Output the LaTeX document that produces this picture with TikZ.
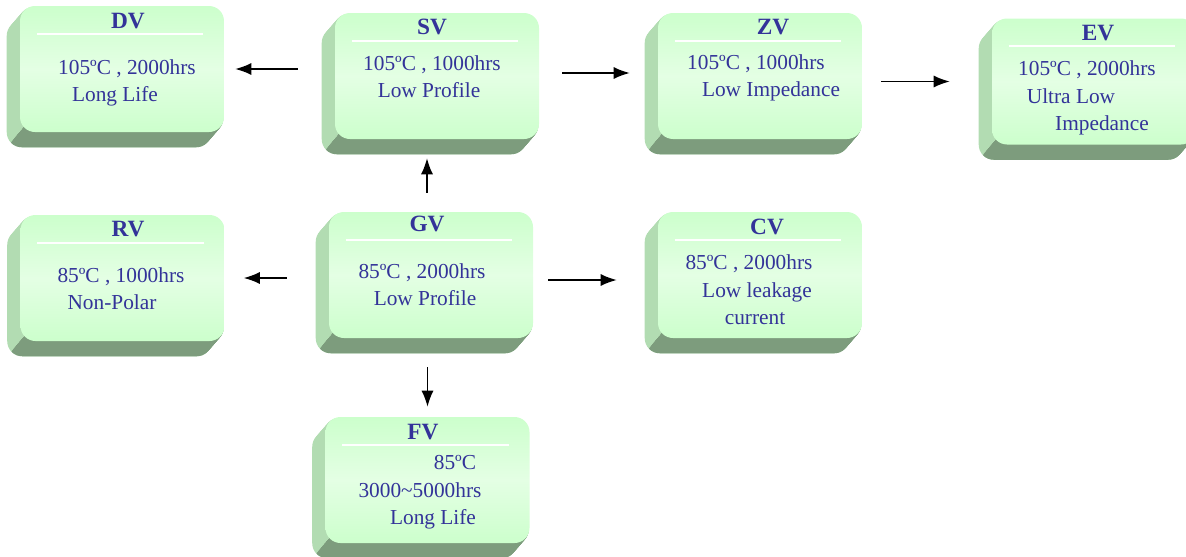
\documentclass[tikz,border=0pt]{standalone}
\usepackage{fontspec}
\setmainfont{Liberation Serif}
\usetikzlibrary{calc}
\usetikzlibrary{arrows.meta}
\usetikzlibrary{backgrounds}
\definecolor{colorTXT}{RGB}{51,51,153}
\definecolor{colorTOP}{RGB}{204,255,204}
\definecolor{colorMID}{RGB}{228,255,228}
\definecolor{colorSIDE}{RGB}{178,220,178}
\definecolor{colorBASE}{RGB}{125,156,125}
\tikzset{
   every path/.style={>={Latex[length=12pt,width=9pt]}},
   series/.style={rectangle,rounded corners=11.25pt,minimum width=153pt,minimum height=94.5pt,inner sep=0pt,
                  top color=colorTOP,bottom color=colorTOP,middle color=colorMID},
   ttl/.style={font=\fontsize{17.5}{21}\selectfont\bfseries,text=colorTXT,inner sep=0pt},
   desc/.style={font=\fontsize{16}{20.5}\selectfont,text=colorTXT,align=center,inner sep=0pt,
                execute at begin node=\strut,execute at end node=\strut},
   titlerule/.style={draw=white,line width=1.2pt},
   sideface/.style={fill=colorSIDE,rounded corners=11.25pt},
   bottomface/.style={fill=colorBASE,rounded corners=11.25pt},
   arr/.style={->,line width=1.1pt},
}

\begin{document}
\begin{tikzpicture}[x=0.75pt,y=-0.75pt]
        \useasboundingbox (0,0) rectangle (1186,557);

        % series boxes
        \node[series] (dv) at (122,69) {};
        \node[series] (sv) at (437,76) {};
        \node[series] (zv) at (760,76) {};
        \node[series] (ev) at (1094,81.5) {};
        \node[series] (rv) at (122.5,278) {};
        \node[series] (gv) at (431,275) {};
        \node[series] (cv) at (760,275) {};
        \node[series] (fv) at (427.5,480) {};

        % extruded sides
        \begin{scope}[on background layer]
          \foreach \n in {dv,sv,zv,ev,rv,gv,cv,fv} {
            \foreach \k in {1,...,13}
              \fill[sideface] ([shift={(-\k,1.154*\k)}]\n.south west) rectangle ([shift={(-\k,1.154*\k)}]\n.north east);
            \begin{scope}
              \clip ([shift={(13,-15)}]\n.south west) -- ([shift={(-30,35)}]\n.south west)
                 -- ([shift={(30,35)}]\n.south east) -- ([shift={(30,-15)}]\n.south east) -- cycle;
              \foreach \k in {1,...,13}
                \fill[bottomface] ([shift={(-\k,1.154*\k)}]\n.south west) rectangle ([shift={(-\k,1.154*\k)}]\n.north east);
            \end{scope}
          }
        \end{scope}

        \foreach \n in {dv,sv,zv,ev,rv,gv,cv,fv}
          \draw[titlerule] ([shift={(17,28)}]\n.north west) -- ([shift={(-21,28)}]\n.north east);

        % titles
        \node[ttl] (dvt) at (128,21) {DV};
        \node[ttl] (svt) at (432,27) {SV};
        \node[ttl] (zvt) at (773,27) {ZV};
        \node[ttl] (evt) at (1098,33) {EV};
        \node[ttl] (rvt) at (128,229) {RV};
        \node[ttl] (gvt) at (427,224) {GV};
        \node[ttl] (cvt) at (767,227) {CV};
        \node[ttl] (fvt) at (423,432) {FV};

        % ratings
        \node[desc] (dvd) at (127,85) {105ºC , 2000hrs\\Long Life\hspace*{18pt}};
        \node[desc] (svd) at (432,81) {105ºC , 1000hrs\\Low Profile\hspace*{4.5pt}};
        \node[desc] (zvd) at (756,80) {105ºC , 1000hrs\\\hspace*{22.5pt}Low Impedance};
        \node[desc] (evd) at (1087,100) {105ºC , 2000hrs\\Ultra Low\hspace*{24pt}\mbox{}\\\hspace*{22.5pt}Impedance};
        \node[desc] (rvd) at (121,293) {85ºC , 1000hrs\\Non-Polar\hspace*{13.5pt}};
        \node[desc] (gvd) at (422,289) {85ºC , 2000hrs\\\hspace*{4.5pt}Low Profile};
        \node[desc] (cvd) at (749,294) {85ºC , 2000hrs\\\hspace*{12pt}Low leakage\\\hspace*{9pt}current};
        \node[desc] (fvd) at (420,494) {\hspace*{52.5pt}85ºC\\3000\textasciitilde 5000hrs\\\hspace*{19.5pt}Long Life};

        % derived series
        \draw[arr,shorten <=27.75pt,shorten >=8.25pt] (sv.west |- dv.east) -- (dv.east);
        \draw[arr,shorten <=17.25pt,shorten >=21pt] ([yshift=2.25pt]sv.east) -- ([yshift=2.25pt]zv.west);
        \draw[arr,shorten <=14.25pt,shorten >=31.5pt] (zv.east |- ev.west) -- (ev.west);
        \draw[arr,shorten <=14.25pt,shorten >=14.25pt] ([xshift=-3pt]gv.north) -- ([xshift=-3pt]gv.north |- sv.south);
        \draw[arr,shorten <=31.5pt,shorten >=14.25pt] (gv.west |- rv.east) -- (rv.east);
        \draw[arr,shorten <=11.25pt,shorten >=30.75pt] ([yshift=-3.75pt]gv.east) -- ([yshift=-3.75pt]cv.west);
        \draw[arr,shorten <=21.75pt,shorten >=7.5pt] (gv.south -| fv.north) -- (fv.north);
\end{tikzpicture}
\end{document}
